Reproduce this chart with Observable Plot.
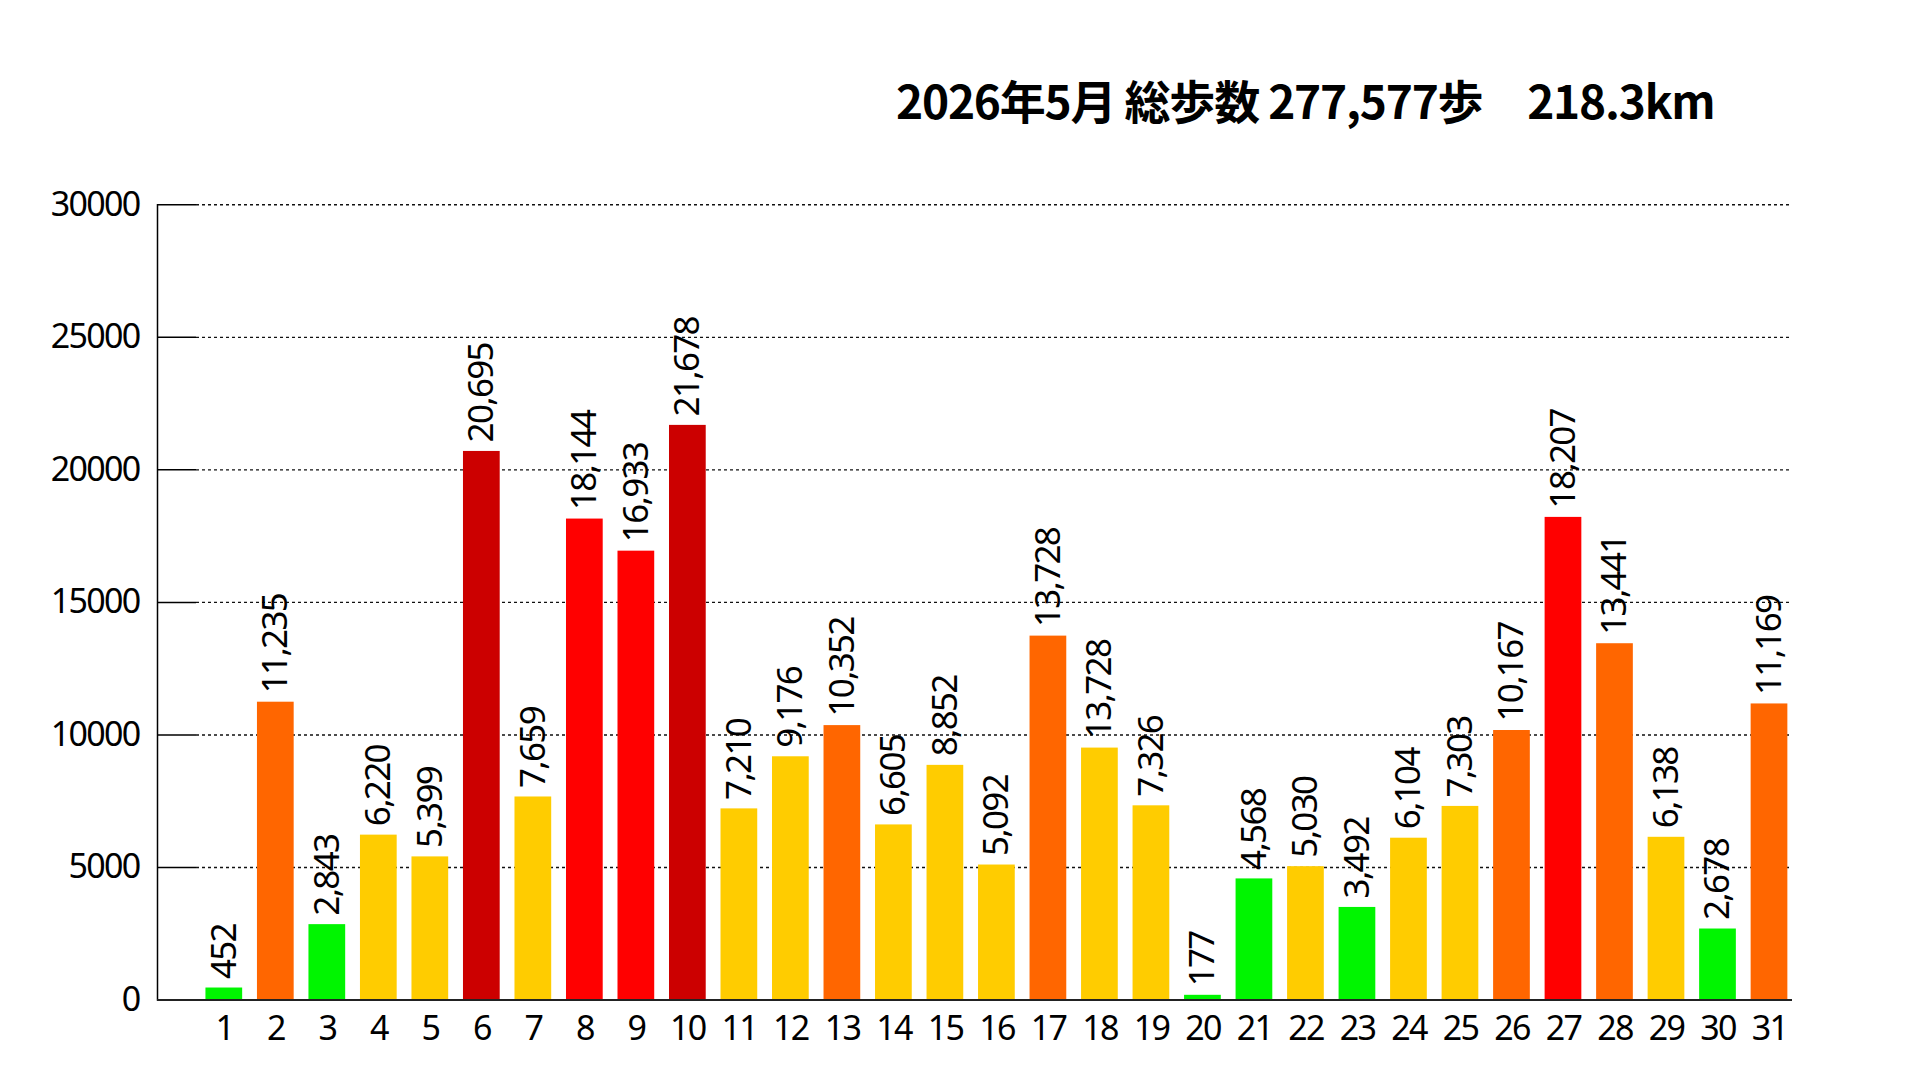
<!DOCTYPE html>
<html>
<head>
<meta charset="utf-8">
<script src="https://cdn.jsdelivr.net/npm/d3@7"></script>
<script src="https://cdn.jsdelivr.net/npm/@observablehq/plot@0.6"></script>
<style>
  html, body { margin: 0; padding: 0; background: #fff; overflow: hidden; }
  #wrap { position: relative; width: 1920px; height: 1080px; }
  #title {
    position: absolute; left: 896px; top: 76px;
    font-family: "Noto Sans CJK JP", "Noto Sans", sans-serif;
    font-weight: 700; font-size: 46px; line-height: 46px; letter-spacing: -1.2px;
    color: #000; white-space: pre;
  }
  #chart { position: absolute; left: 0; top: 0; }
</style>
</head>
<body>
<div id="wrap">
  <div id="chart"></div>
  <div id="title">2026年5月 総歩数 277,577歩　218.3km</div>
</div>
<script>
const days = [1,2,3,4,5,6,7,8,9,10,11,12,13,14,15,16,17,18,19,20,21,22,23,24,25,26,27,28,29,30,31];
const steps = [452, 11235, 2843, 6220, 5399, 20695, 7659, 18144, 16933, 21678, 7210, 9176, 10352, 6605, 8852, 5092, 13728, 9504, 7326, 177, 4568, 5030, 3492, 6104, 7303, 10167, 18207, 13441, 6138, 2678, 11169];
const labelValues = [452, 11235, 2843, 6220, 5399, 20695, 7659, 18144, 16933, 21678, 7210, 9176, 10352, 6605, 8852, 5092, 13728, 13728, 7326, 177, 4568, 5030, 3492, 6104, 7303, 10167, 18207, 13441, 6138, 2678, 11169];
const yTicks = [0, 5000, 10000, 15000, 20000, 25000, 30000];
const colorBreaks = [5000, 10000, 15000, 20000];
const colorRange = ["#00f500", "#ffcc00", "#ff6600", "#ff0000", "#cc0000"];

const data = days.map((d, i) => ({day: d, steps: steps[i], label: labelValues[i]}));
const fmt = d3.format(",");

const W = 1920, H = 1080;
const mL = 157, mR = 128, mT = 204.3, mB = 80.5;
const frameW = W - mL - mR;
const tickLen = 39;

const chart = Plot.plot({
  width: W,
  height: H,
  marginLeft: mL,
  marginRight: mR,
  marginTop: mT,
  marginBottom: mB,
  style: {fontFamily: "'Noto Sans', sans-serif", fontSize: "34px", letterSpacing: "-1.7px", color: "#000", background: "#fff"},
  x: {type: "band", domain: days, range: [198.05, 1794.75], paddingInner: 0.287, paddingOuter: 0.1435, round: false, label: null},
  y: {domain: [0, 30000], label: null},
  color: {type: "threshold", domain: colorBreaks, range: colorRange},
  marks: [
    Plot.axisY({ticks: yTicks, tickFormat: d3.format("d"), tickSize: 0, tickPadding: 18, label: null}),
    Plot.axisX({tickSize: 0, tickPadding: 16, label: null}),
    Plot.frame({anchor: "left", stroke: "#000", strokeWidth: 1.5}),
    Plot.ruleY(yTicks.filter(t => t > 0), {stroke: "#000", strokeWidth: 1.5, insetRight: frameW - tickLen}),
    Plot.ruleY(yTicks.filter(t => t > 0), {stroke: "#111", strokeWidth: 1.4, strokeDasharray: "3,3", insetLeft: tickLen}),
    Plot.barY(data, {x: "day", y: "steps", fill: "steps"}),
    Plot.ruleY([0], {stroke: "#222", strokeWidth: 2}),
    Plot.text(data, {x: "day", y: "steps", text: d => fmt(d.label), rotate: -90, textAnchor: "start", dy: -9, fontSize: 35, letterSpacing: "-1.4px", fill: "#000"})
  ]
});
document.getElementById("chart").appendChild(chart);
</script>
</body>
</html>
